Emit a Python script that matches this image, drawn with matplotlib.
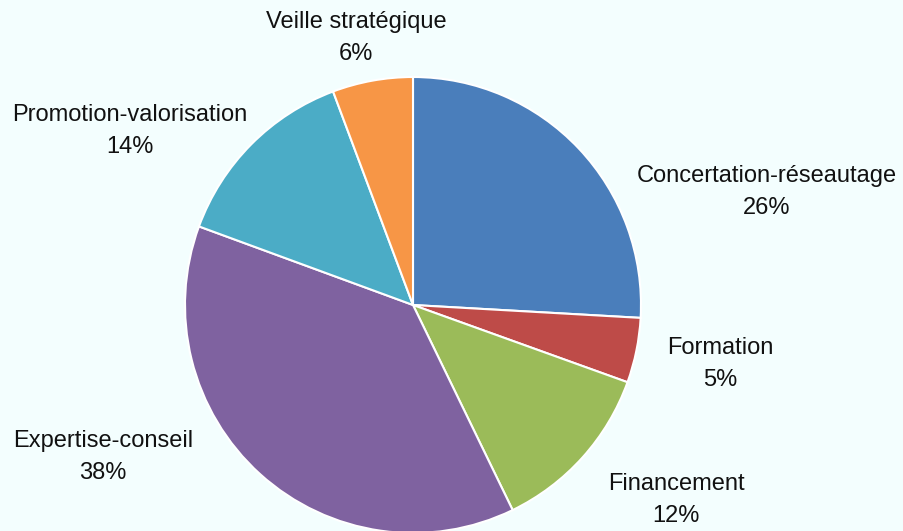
import matplotlib.pyplot as plt

# Data
categories = ["Concertation-réseautage", "Formation", "Financement",
              "Expertise-conseil", "Promotion-valorisation", "Veille stratégique"]
shares = [25.9, 4.6, 12.3, 37.8, 13.7, 5.7]
colors = ["#4A7EBB", "#BE4B48", "#9BBB59", "#7F62A0", "#4BACC6", "#F79646"]

# label anchor positions (pixels from top-left), layout only
label_pos = [(767, 192), (720, 364), (676, 500), (103, 457), (130, 131), (356, 38)]

W, H = 904, 531
bg = "#F3FEFE"
plt.rcParams["font.family"] = ["Liberation Sans", "DejaVu Sans"]

fig = plt.figure(figsize=(W / 100, H / 100), dpi=100, facecolor=bg)
ax = fig.add_axes([0, 0, 1, 1])
ax.set_facecolor(bg)

ax.pie(shares, colors=colors, startangle=90, counterclock=False,
       center=(413, H - 305), radius=228, frame=True,
       wedgeprops=dict(edgecolor="white", linewidth=1.5))
ax.set_xlim(0, W)
ax.set_ylim(0, H)
ax.set_aspect("equal")
ax.axis("off")

total = sum(shares)
for name, val, (x, y) in zip(categories, shares, label_pos):
    ax.text(x, H - y, f"{name}\n{round(val / total * 100)}%", ha="center",
            va="center", fontsize=17, linespacing=1.55, color="#111111")

fig.savefig("out.png", dpi=100, facecolor=bg)
